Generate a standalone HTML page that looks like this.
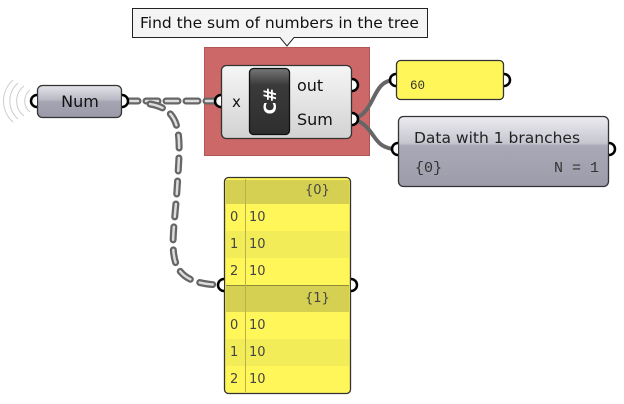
<!DOCTYPE html>
<html><head><meta charset="utf-8"><style>
html,body{margin:0;padding:0;background:#fff;}
svg{display:block;}
text{font-family:"DejaVu Sans","Liberation Sans",sans-serif;}
.mono{font-family:"Liberation Mono","DejaVu Sans Mono",monospace;}
</style></head><body>
<svg width="624" height="404" viewBox="0 0 624 404" xmlns="http://www.w3.org/2000/svg">
<defs>
<linearGradient id="gNum" x1="0" y1="0" x2="0" y2="1">
<stop offset="0" stop-color="#e4e4ea"/><stop offset="0.45" stop-color="#b9b9c4"/><stop offset="0.5" stop-color="#a4a4b2"/><stop offset="1" stop-color="#9a9aa8"/></linearGradient>
<linearGradient id="gComp" x1="0" y1="0" x2="0" y2="1">
<stop offset="0" stop-color="#f6f6f6"/><stop offset="1" stop-color="#d2d2d2"/></linearGradient>
<linearGradient id="gIcon" x1="0" y1="0" x2="0" y2="1">
<stop offset="0" stop-color="#777"/><stop offset="0.25" stop-color="#3a3a3a"/><stop offset="1" stop-color="#2e2e2e"/></linearGradient>
<linearGradient id="gData" x1="0" y1="0" x2="0" y2="1">
<stop offset="0" stop-color="#ececf0"/><stop offset="0.38" stop-color="#c6c6d0"/><stop offset="0.42" stop-color="#a8a8b6"/><stop offset="1" stop-color="#9c9cab"/></linearGradient>
</defs>

<g fill="none" stroke="#ccc" stroke-width="1">
<path d="M30,90 A14,14 0 0 0 30,112"/><path d="M24,86 A19,19 0 0 0 24,116"/><path d="M18,83 A24,24 0 0 0 18,119"/><path d="M13,80 A28,28 0 0 0 13,122"/>
</g>

<path d="M132.5,8.5 H427.5 V37.5 H294 L287,46 L280,37.5 H132.5 Z" fill="#f4f4f4" stroke="#222" stroke-width="1"/>
<text x="140" y="28" font-size="15.5" fill="#111">Find the sum of numbers in the tree</text>

<rect x="204.5" y="47.5" width="165" height="108" fill="#cd6868" stroke="#b05656"/>

<g fill="none" stroke="#666" stroke-width="4">
<path d="M356,118 C376,110 372,80 395,80"/>
<path d="M356,120 C376,128 372,148 395,149"/>
</g>

<g fill="none" stroke-linecap="round">
<path d="M126,101 H216" stroke="#666" stroke-width="7" stroke-dasharray="12 8"/>
<path d="M126,101 H216" stroke="#ddd" stroke-width="2.5" stroke-dasharray="12 8"/>
<path d="M150,104 C185,110 180,140 177,190 C173,250 160,284 222,285" stroke="#666" stroke-width="7" stroke-dasharray="13 10"/>
<path d="M150,104 C185,110 180,140 177,190 C173,250 160,284 222,285" stroke="#ddd" stroke-width="2.5" stroke-dasharray="13 10"/>
</g>

<rect x="37.5" y="85.5" width="84" height="32" rx="5" fill="url(#gNum)" stroke="#333" stroke-width="1.3"/>
<text x="80" y="107" font-size="16" fill="#111" text-anchor="middle">Num</text>
<g fill="#fff" stroke="#000" stroke-width="2.5">
<path d="M37,95 A5.5,5.5 0 0 0 37,107"/>
<path d="M122,95 A5.5,5.5 0 0 1 122,107"/>
</g>

<rect x="221.5" y="65.5" width="130" height="73" rx="5" fill="url(#gComp)" stroke="#333" stroke-width="1.3"/>
<rect x="249.5" y="68.5" width="40" height="66" rx="4" fill="url(#gIcon)" stroke="#111" stroke-width="1.3"/>
<text transform="translate(276,101) rotate(-90)" font-size="17" font-weight="bold" fill="#fff" text-anchor="middle">C#</text>
<text x="232" y="107" font-size="15" fill="#111">x</text>
<text x="297" y="91" font-size="16" fill="#111">out</text>
<text x="297" y="125" font-size="16" fill="#111">Sum</text>
<g fill="#fff" stroke="#000" stroke-width="2.5">
<path d="M221,95 A5.5,5.5 0 0 0 221,107"/>
<path d="M352,79 A5.5,5.5 0 0 1 352,91"/>
<path d="M352,113 A5.5,5.5 0 0 1 352,125"/>
</g>

<rect x="396.5" y="60.5" width="107" height="39" rx="4" fill="#fff75a" stroke="#333" stroke-width="1.3"/>
<text x="410" y="89" font-size="12.5" class="mono" fill="#333">60</text>
<g fill="#fff" stroke="#000" stroke-width="2.5">
<path d="M396,74 A5.5,5.5 0 0 0 396,86"/>
<path d="M504,74 A5.5,5.5 0 0 1 504,86"/>
</g>

<rect x="398.5" y="116.5" width="210" height="70" rx="5" fill="url(#gData)" stroke="#333" stroke-width="1.3"/>
<text x="414" y="143" font-size="15.5" fill="#222">Data with 1 branches</text>
<text x="415" y="172" font-size="15" class="mono" fill="#333">{0}</text>
<text x="599" y="172" font-size="15" class="mono" fill="#333" text-anchor="end">N = 1</text>
<g fill="#fff" stroke="#000" stroke-width="2.5">
<path d="M398,143 A5.5,5.5 0 0 0 398,155"/>
<path d="M609,143 A5.5,5.5 0 0 1 609,155"/>
</g>

<rect x="224.5" y="177.5" width="126" height="216" rx="4" fill="#fff65a" stroke="#333" stroke-width="1.3"/>
<rect x="226" y="180" width="123" height="24" fill="#d6d052"/>
<rect x="226" y="231" width="123" height="27" fill="#f1ec58"/>
<rect x="226" y="286" width="123" height="26" fill="#d6d052"/>
<rect x="226" y="339" width="123" height="27" fill="#f1ec58"/>
<line x1="226" y1="285.5" x2="349" y2="285.5" stroke="#8e8a3a" stroke-width="1"/>
<line x1="245.5" y1="179" x2="245.5" y2="392" stroke="#b8b24a" stroke-width="1"/>
<g class="mono" font-size="13" fill="#444">
<text x="305" y="194">{0}</text>
<text x="305" y="302">{1}</text>
<text x="230" y="221">0</text><text x="249" y="221">10</text>
<text x="230" y="248">1</text><text x="249" y="248">10</text>
<text x="230" y="275">2</text><text x="249" y="275">10</text>
<text x="230" y="329">0</text><text x="249" y="329">10</text>
<text x="230" y="356">1</text><text x="249" y="356">10</text>
<text x="230" y="383">2</text><text x="249" y="383">10</text>
</g>
<g fill="#fff" stroke="#000" stroke-width="2.5">
<path d="M224,279 A5.5,5.5 0 0 0 224,291"/>
<path d="M351,279 A5.5,5.5 0 0 1 351,291"/>
</g>
</svg>
</body></html>
